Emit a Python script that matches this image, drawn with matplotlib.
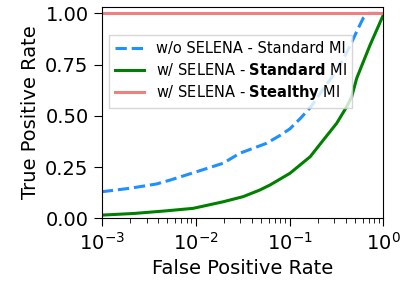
import matplotlib
matplotlib.use("Agg")
import matplotlib.pyplot as plt

fpr_blue = [0.001, 0.002, 0.00384, 0.00535, 0.0103, 0.0196, 0.0296, 0.0567, 0.0794, 0.101,
            0.13, 0.166, 0.195, 0.249, 0.306, 0.346, 0.44, 0.53, 0.61, 0.69, 1.0]
tpr_blue = [0.13, 0.147, 0.168, 0.187, 0.228, 0.269, 0.318, 0.366, 0.405, 0.437,
            0.487, 0.54, 0.585, 0.655, 0.71, 0.75, 0.84, 0.92, 0.977, 1.0, 1.0]

fpr_green = [0.001, 0.0022, 0.0049, 0.0094, 0.0196, 0.032, 0.048, 0.062, 0.101, 0.166,
             0.229, 0.318, 0.407, 0.46, 0.52, 0.72, 1.0]
tpr_green = [0.016, 0.024, 0.037, 0.049, 0.081, 0.106, 0.138, 0.163, 0.22, 0.301,
             0.382, 0.464, 0.545, 0.594, 0.684, 0.845, 0.993]

fpr_red = [0.001, 1.0]
tpr_red = [1.0, 1.0]

labels = ["w/o SELENA - Standard MI",
          r"w/ SELENA - $\bf{Standard}$ MI",
          r"w/ SELENA - $\bf{Stealthy}$ MI"]

fig = plt.figure(figsize=(4.04, 2.84), dpi=100)
ax = fig.add_axes([0.252, 0.231, 0.697, 0.745])
ax.plot(fpr_blue, tpr_blue, color="dodgerblue", linestyle="--", lw=2.2, label=labels[0])
ax.plot(fpr_green, tpr_green, color="green", lw=2.2, label=labels[1])
ax.plot(fpr_red, tpr_red, color="lightcoral", lw=2.2, label=labels[2])
ax.set_xscale("log")
ax.set_xlim(1e-3, 1)
ax.set_ylim(0, 1.032)
ax.set_yticks([0, 0.25, 0.5, 0.75, 1.0])
ax.set_yticklabels(["0.00", "0.25", "0.50", "0.75", "1.00"])
ax.tick_params(labelsize=14, which="major", length=6)
ax.tick_params(which="minor", length=3.5)
ax.set_xlabel("False Positive Rate", fontsize=14)
ax.set_ylabel("True Positive Rate", fontsize=14)
ax.legend(loc="upper left", bbox_to_anchor=(0.026, 0.866), borderaxespad=0,
          fontsize=10.5, fancybox=False, labelspacing=0.35)
fig.savefig("out.png", dpi=100)
